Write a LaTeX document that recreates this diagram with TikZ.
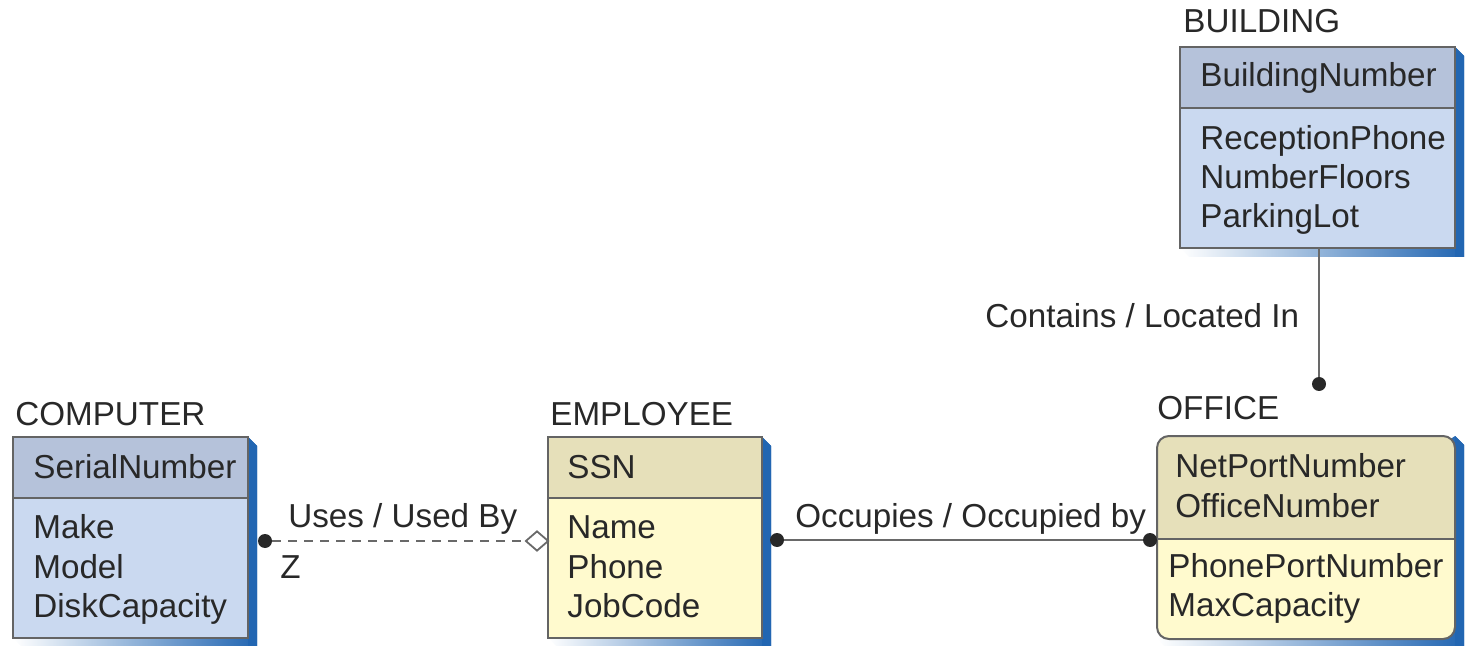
\documentclass[tikz,border=0pt]{standalone}
\usepackage{fontspec}
\setmainfont{Liberation Sans}
\usetikzlibrary{shapes.geometric}

\definecolor{hdrblue}{RGB}{181,194,218}
\definecolor{bodyblue}{RGB}{202,217,240}
\definecolor{hdryel}{RGB}{230,224,186}
\definecolor{bodyyel}{RGB}{255,250,206}
\definecolor{shadowblue}{RGB}{34,102,178}
\definecolor{edgegray}{RGB}{100,100,100}
\definecolor{ink}{RGB}{40,40,40}
\definecolor{linkgray}{RGB}{105,105,105}

% Entity box: #1 left, #2 top, #3 right, #4 divider, #5 bottom,
% #6 key colour, #7 attribute colour, #8 corner radius
\newcommand\erbox[8]{%
  \shade[left color=white, right color=shadowblue]
    (#3,#2) -- (#3+9,#2+9) -- (#3+9,#5+9) -- (#1+9,#5+9) -- (#1,#5) -- cycle;
  \fill[shadowblue] (#3,#2) -- (#3+9,#2+9) -- (#3+9,#5+9) -- (#3,#5+9) -- cycle;
  \begin{scope}
    \clip[rounded corners=#8] (#1,#2) rectangle (#3,#5);
    \fill[#6] (#1,#2) rectangle (#3,#4);
    \fill[#7] (#1,#4) rectangle (#3,#5);
  \end{scope}
  \draw[frame, rounded corners=#8] (#1,#2) rectangle (#3,#5);
  \draw[frame] (#1,#4) -- (#3,#4);
}

\begin{document}
\begin{tikzpicture}[x=0.5pt, y=-0.5pt,
  txt/.style={anchor=base west, inner sep=0pt, text=ink,
              font=\fontsize{16.6}{20}\selectfont},
  frame/.style={draw=edgegray, line width=1pt},
  link/.style={draw=linkgray, line width=1.1pt},
  enddot/.style={circle, fill=ink, inner sep=0pt, minimum size=7pt},
  opendiamond/.style={diamond, draw=linkgray, fill=white, line width=0.9pt,
                      inner sep=0pt, minimum width=11.5pt, minimum height=10pt}]

\useasboundingbox (0,0) rectangle (1466,646);

% entity boxes
\erbox{13}{437}{248}{498}{638}{hdrblue}{bodyblue}{0pt}
\erbox{548}{437}{762}{498}{638}{hdryel}{bodyyel}{0pt}
\erbox{1157}{436}{1455}{539}{639}{hdryel}{bodyyel}{6pt}
\erbox{1180}{47}{1455}{108}{248}{hdrblue}{bodyblue}{0pt}

% COMPUTER
\node[txt] (compTitle) at (15,425) {COMPUTER};
\node[txt] (compKey)   at (33,478) {SerialNumber};
\node[txt] (compMake)  at (33,538) {Make};
\node[txt] (compModel) at (33,578) {Model};
\node[txt] (compDisk)  at (33,617) {DiskCapacity};

% EMPLOYEE
\node[txt] (empTitle) at (550,425) {EMPLOYEE};
\node[txt] (empKey)   at (567,478) {SSN};
\node[txt] (empName)  at (567,538) {Name};
\node[txt] (empPhone) at (567,578) {Phone};
\node[txt] (empJob)   at (567,617) {JobCode};

% OFFICE
\node[txt] (offTitle) at (1157,420) {OFFICE};
\node[txt] (offKeyA)  at (1175,477) {NetPortNumber};
\node[txt] (offKeyB)  at (1175,517) {OfficeNumber};
\node[txt] (offPhone) at (1168,577) {PhonePortNumber};
\node[txt] (offMax)   at (1168,616) {MaxCapacity};

% BUILDING
\node[txt] (bldTitle)   at (1183,33)  {BUILDING};
\node[txt] (bldKey)     at (1200,87)  {BuildingNumber};
\node[txt] (bldPhone)   at (1200,150) {ReceptionPhone};
\node[txt] (bldFloors)  at (1200,189) {NumberFloors};
\node[txt] (bldParking) at (1200,228) {ParkingLot};

% Uses / Used By
\node[enddot] (usesA) at (265,541) {};
\node[opendiamond] (usesB) at (537,541) {};
\draw[link, dash pattern=on 4.5pt off 3.5pt] (usesA) -- (usesB.west);
\node[txt] (usesLbl) at (288,527) {Uses / Used By};
\node[txt] (usesZ)   at (280,578) {Z};

% Occupies / Occupied by
\node[enddot] (occA) at (777,540) {};
\node[enddot] (occB) at (1150,540) {};
\draw[link] (occA) -- (occB);
\node[txt] (occLbl) at (795,527) {Occupies / Occupied by};

% Contains / Located In
\coordinate (bldFoot) at (1319,248);
\node[enddot] (conB) at (1319,384) {};
\draw[link, line width=1.3pt] (bldFoot) -- (conB);
\node[txt] (conLbl) at (985,328) {Contains / Located In};

\end{tikzpicture}
\end{document}
